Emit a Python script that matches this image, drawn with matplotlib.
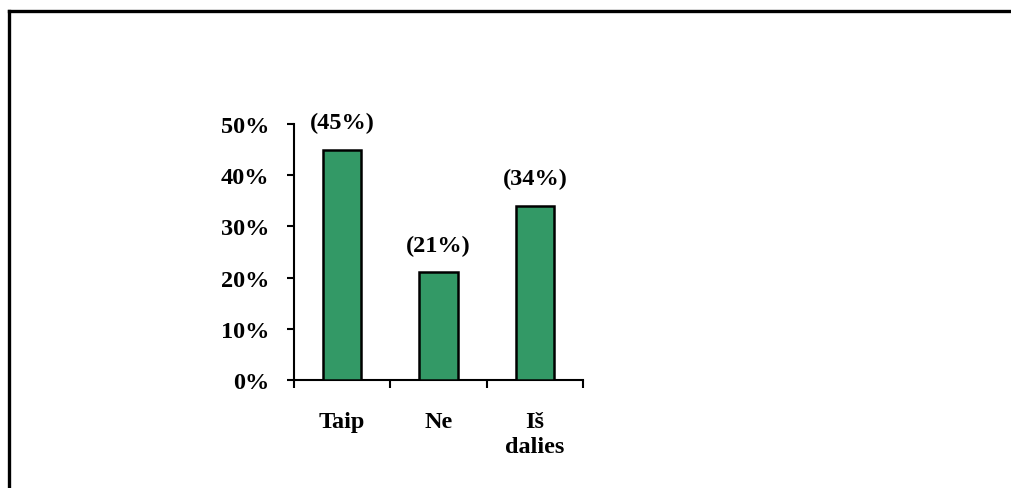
import matplotlib
matplotlib.use("Agg")
import matplotlib.pyplot as plt
from matplotlib.lines import Line2D

categories = ["Taip", "Ne", "Iš\ndalies"]
shares = [45, 21, 34]
value_labels = ["(45%)", "(21%)", "(34%)"]
y_ticks = [0, 10, 20, 30, 40, 50]
y_tick_labels = ["0%", "10%", "20%", "30%", "40%", "50%"]

W, H = 1011, 489
fig = plt.figure(figsize=(W / 100, H / 100), dpi=100)
fig.patch.set_facecolor("white")

plt.rcParams["font.family"] = ["Liberation Serif", "DejaVu Serif"]
plt.rcParams["font.weight"] = "bold"
FS = 17.5

# plot area in pixel terms
x0, x1 = 294, 583
y_top, y_bot = 125, 381
ax = fig.add_axes([x0 / W, 1 - y_bot / H, (x1 - x0) / W, (y_bot - y_top) / H])

xs = list(range(len(categories)))
ax.bar(xs, shares, width=0.4, color="#339966", edgecolor="black", linewidth=1.8, zorder=3)

for x, v, lab in zip(xs, shares, value_labels):
    ax.annotate(lab, (x, v), xytext=(0, 12), textcoords="offset points",
                ha="center", va="bottom", fontsize=FS, fontweight="bold")

ax.set_xlim(-0.5, len(categories) - 0.5)
ax.set_ylim(0, 50)
ax.set_yticks(y_ticks)
ax.set_yticklabels(y_tick_labels, fontsize=FS, fontweight="bold")
ax.set_xticks([x - 0.5 for x in xs] + [len(categories) - 0.5])
ax.set_xticklabels([])
ax.tick_params(axis="y", direction="out", length=5, width=1.5, pad=13)
ax.tick_params(axis="x", direction="out", length=6, width=1.5)

for x, c in zip(xs, categories):
    ax.annotate(c, (x, 0), xycoords=("data", "axes fraction"), xytext=(0, -22),
                textcoords="offset points", ha="center", va="top",
                fontsize=FS, fontweight="bold", linespacing=1.3)

for s in ["top", "right"]:
    ax.spines[s].set_visible(False)
for s in ["left", "bottom"]:
    ax.spines[s].set_linewidth(1.5)

# outer frame: top and left edges
fig.add_artist(Line2D([8.5 / W, 1.0], [1 - 11.5 / H, 1 - 11.5 / H], transform=fig.transFigure,
                      color="black", linewidth=2.4, solid_capstyle="projecting"))
fig.add_artist(Line2D([8.5 / W, 8.5 / W], [0.0, 1 - 11.5 / H], transform=fig.transFigure,
                      color="black", linewidth=2.4, solid_capstyle="projecting"))

fig.savefig("out.png", dpi=100, facecolor="white")
